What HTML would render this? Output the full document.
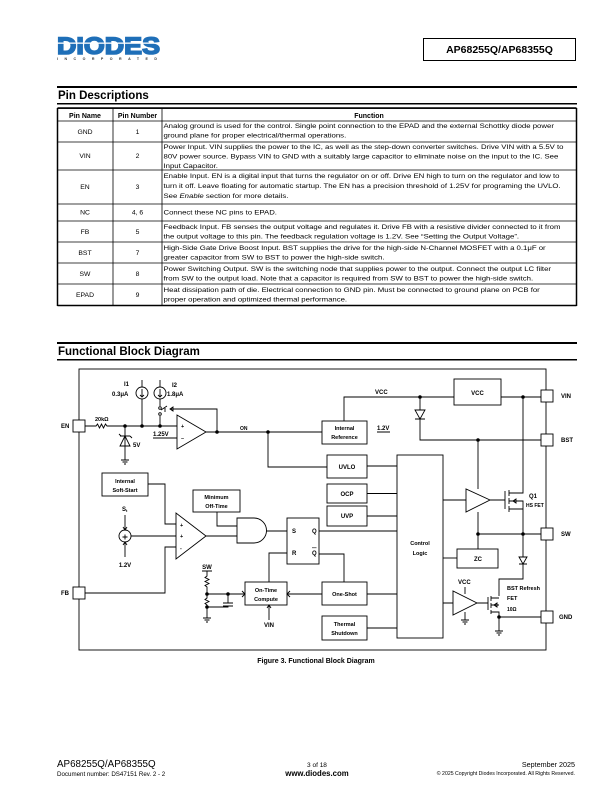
<!DOCTYPE html>
<html><head><meta charset="utf-8"><style>
html,body{margin:0;padding:0;background:#fff}
svg{display:block}
text{font-family:"Liberation Sans",Arial,sans-serif}
.d{font-size:6px;font-weight:bold}
.t{font-size:6.8px}
</style></head><body>
<svg width="612" height="792" viewBox="0 0 612 792" xmlns="http://www.w3.org/2000/svg">
<text x="57" y="54" font-size="24" font-weight="bold" fill="#1f6fb8" stroke="#1f6fb8" stroke-width="1.6" textLength="103" lengthAdjust="spacingAndGlyphs">DIODES</text>
<rect x="56" y="42.5" width="106" height="1.3" fill="#fff"/>
<text x="57" y="60" font-size="3.6" font-weight="bold" fill="#333" textLength="100" lengthAdjust="spacing">INCORPORATED</text>
<rect x="423.5" y="38.5" width="152" height="22" fill="none" stroke="#000" stroke-width="1"/>
<text x="499.5" y="53" font-size="10.5" font-weight="bold" text-anchor="middle">AP68255Q/AP68355Q</text>

<rect x="57" y="86" width="520" height="2" fill="#000"/>
<text x="58" y="99" font-size="11.5" font-weight="bold">Pin Descriptions</text>
<rect x="57" y="103" width="520" height="1.5" fill="#000"/>
<g stroke="#000" stroke-width="0.8" fill="none">
<rect x="57.5" y="108.5" width="519" height="197"/>
<line x1="57.5" y1="108" x2="576.5" y2="108" stroke-width="1.5"/>
<line x1="57.5" y1="305.5" x2="576.5" y2="305.5" stroke-width="1.5"/>
<line x1="57.5" y1="108" x2="57.5" y2="306" stroke-width="1.5"/>
<line x1="576.5" y1="108" x2="576.5" y2="306" stroke-width="1.5"/>
<line x1="113" y1="108" x2="113" y2="306"/>
<line x1="162" y1="108" x2="162" y2="306"/>
<line x1="57" y1="121" x2="577" y2="121"/>
<line x1="57" y1="142" x2="577" y2="142"/>
<line x1="57" y1="170" x2="577" y2="170"/>
<line x1="57" y1="204" x2="577" y2="204"/>
<line x1="57" y1="221" x2="577" y2="221"/>
<line x1="57" y1="242" x2="577" y2="242"/>
<line x1="57" y1="263" x2="577" y2="263"/>
<line x1="57" y1="284" x2="577" y2="284"/>
</g>
<g class="t">
<text x="85" y="118" text-anchor="middle" font-weight="bold" font-size="7">Pin Name</text>
<text x="137.5" y="118" text-anchor="middle" font-weight="bold" font-size="7">Pin Number</text>
<text x="369" y="118" text-anchor="middle" font-weight="bold" font-size="7">Function</text>
<g text-anchor="middle">
<text x="85" y="134">GND</text><text x="137.5" y="134">1</text>
<text x="85" y="158">VIN</text><text x="137.5" y="158">2</text>
<text x="85" y="189">EN</text><text x="137.5" y="189">3</text>
<text x="85" y="214.5">NC</text><text x="137.5" y="214.5">4, 6</text>
<text x="85" y="234">FB</text><text x="137.5" y="234">5</text>
<text x="85" y="255">BST</text><text x="137.5" y="255">7</text>
<text x="85" y="276">SW</text><text x="137.5" y="276">8</text>
<text x="85" y="297">EPAD</text><text x="137.5" y="297">9</text>
</g>
<g transform="translate(163.5,0) scale(1.18,1)" font-size="6.6">
<text x="0" y="128">Analog ground is used for the control. Single point connection to the EPAD and the external Schottky diode power</text>
<text x="0" y="137.5">ground plane for proper electrical/thermal operations.</text>
<text x="0" y="149">Power Input. VIN supplies the power to the IC, as well as the step-down converter switches. Drive VIN with a 5.5V to</text>
<text x="0" y="158.5">80V power source. Bypass VIN to GND with a suitably large capacitor to eliminate noise on the input to the IC. See</text>
<text x="0" y="168">Input Capacitor.</text>
<text x="0" y="178">Enable Input. EN is a digital input that turns the regulator on or off. Drive EN high to turn on the regulator and low to</text>
<text x="0" y="188">turn it off. Leave floating for automatic startup. The EN has a precision threshold of 1.25V for programing the UVLO.</text>
<text x="0" y="198">See <tspan font-style="italic">Enable</tspan> section for more details.</text>
<text x="0" y="214.5">Connect these NC pins to EPAD.</text>
<text x="0" y="229">Feedback Input. FB senses the output voltage and regulates it. Drive FB with a resistive divider connected to it from</text>
<text x="0" y="238.5">the output voltage to this pin. The feedback regulation voltage is 1.2V. See “Setting the Output Voltage”.</text>
<text x="0" y="250">High-Side Gate Drive Boost Input. BST supplies the drive for the high-side N-Channel MOSFET with a 0.1μF or</text>
<text x="0" y="259.5">greater capacitor from SW to BST to power the high-side switch.</text>
<text x="0" y="271">Power Switching Output. SW is the switching node that supplies power to the output. Connect the output LC filter</text>
<text x="0" y="280.5">from SW to the output load. Note that a capacitor is required from SW to BST to power the high-side switch.</text>
<text x="0" y="292">Heat dissipation path of die. Electrical connection to GND pin. Must be connected to ground plane on PCB for</text>
<text x="0" y="301.5">proper operation and optimized thermal performance.</text>
</g>
</g>

<rect x="57" y="342" width="520" height="2" fill="#000"/>
<text x="58" y="355" font-size="11.5" font-weight="bold">Functional Block Diagram</text>
<rect x="57" y="359" width="520" height="1.5" fill="#000"/>

<g stroke="#000" stroke-width="0.9" fill="none">
<rect x="79" y="369" width="467" height="281"/>
<rect x="73" y="420" width="12" height="12" fill="#fff"/>
<rect x="73" y="587" width="12" height="12" fill="#fff"/>
<rect x="541" y="390" width="12" height="12" fill="#fff"/>
<rect x="541" y="434" width="12" height="12" fill="#fff"/>
<rect x="541" y="528" width="12" height="12" fill="#fff"/>
<rect x="541" y="611" width="12" height="12" fill="#fff"/>
<path d="M85 426 H96 l1.5 -2 l2 4 l2 -4 l2 4 l2 -4 l1.5 2 H177"/>
<path d="M125 426 V460 M121 460 H129 M122.5 462 H127.5 M124 464 H126"/>
<path d="M120 436 H130 M121 436 l-2 -2 M130 436 l2 2 M125 436 L120 446 H130 Z"/>
<circle cx="142" cy="393" r="6"/><path d="M142 380 V387 M142 399 V426 M142 389 V397 M140 395 L142 397 L144 395"/>
<circle cx="160" cy="393" r="6"/><path d="M160 380 V387 M160 399 V406 M160 389 V397 M158 395 L160 397 L162 395"/>
<circle cx="160" cy="408" r="1.3"/><path d="M161 410 L167 406 M160 416 V426 M165 412 V408"/>
<circle cx="160" cy="414" r="1.3"/>
<path d="M170 409 H217 V432 M170 409 l3 -2 v4 z"/>
<path d="M153 438 H175 M175 438 H177"/>
<path d="M177 415 V449 L206 432 Z"/>
<path d="M206 432 H322 M268 432 V467 H327"/>
<rect x="322" y="421" width="45" height="23"/>
<path d="M344 421 V397 H454 M377 432 H390"/>
<rect x="454" y="379" width="47" height="26"/>
<path d="M501 397 H541 M420 397 V410 M415 410 H425 L420 419 Z M415 419 H425 M420 419 V440 H541"/>
<rect x="327" y="455" width="40" height="23"/>
<rect x="327" y="484" width="40" height="19"/>
<rect x="327" y="506" width="40" height="20"/>
<rect x="397" y="455" width="46" height="183"/>
<path d="M367 466 H397 M367 493.5 H397 M367 516 H397"/>
<path d="M443 500 H466 M466 489 V512 L490 500 Z M490 500 H505"/>
<path d="M478 440 V489 M478 512 V549"/>
<path d="M505 491 V509 M509 490 V496 M509 498 V504 M509 506 V512 M509 493 H523 V397 M509 509 H523 M509 501 H523 V541 M478 534 H541 M513 501 l3 -2 v4 z"/>
<rect x="457" y="549" width="41" height="19"/>
<path d="M443 558 H457"/>
<path d="M523 541 V557 M519 557 H527 L523 564 Z M519 564 H527 M523 564 V579 H499 V596"/>
<path d="M443 603 H453 M453 591 V615 L477 603 Z M465 587 V594 M465 612 V620 M461 620 H469 M462.5 622 H467.5 M464 624 H466"/>
<path d="M477 603 H488 M488 597 V610 M491 596 V601 M491 603 V608 M491 610 V614 M491 598 H499 M491 612 H499 V631 M491 605 H499 M499 617 H541 M495 631 H503 M496.5 633 H501.5 M498 635 H500 M494 605 l3 -2 v4 z"/>
<rect x="102" y="473" width="46" height="23"/>
<path d="M148 484 H165 V524 H176"/>
<path d="M176 513 V559 L206 536 Z"/>
<circle cx="125" cy="536" r="6"/><path d="M131 536 H176 M125 515 V530 M123 527 L125 530 L127 527 M125 557 V542 M123 545 L125 542 L127 545 M122.5 537 H127.5 M125 534.5 V539.5"/>
<path d="M85 593 H165 V547 H176"/>
<rect x="193" y="490" width="47" height="22"/>
<path d="M217 512 V526 H237 M206 536 H237"/>
<path d="M237 518 H254 A12.5 12.5 0 0 1 254 543 H237 Z"/>
<path d="M266.5 531 H287"/>
<rect x="287" y="518" width="32" height="46"/>
<path d="M319 531 H397 M319 554 H344 V582 M287 553 H269 V582"/>
<rect x="322" y="582" width="45" height="23"/>
<rect x="322" y="616" width="45" height="24"/>
<path d="M367 594 H397 M367 628 H397 M322 594 H287 M290 591 L287 594 L290 597"/>
<rect x="245" y="582" width="42" height="23"/>
<path d="M269 620 V605 M267 608 L269 605 L271 608"/>
<path d="M202 571 H212 M207 571 V576 l-2 1.5 l4 2 l-4 2 l4 2 l-4 2 l2 1.5 V594 V598 l-2 1.5 l4 2 l-4 2 l2 1.5 V607 V618 M203 618 H211 M204.5 620 H209.5 M206 622 H208"/>
<path d="M207 594 H245 M242 591 L245 594 L242 597 M228 594 V603 M223 603 H233 M223 606 H233 M228 606 V607 H207"/>
</g>
<g fill="#000">
<circle cx="125" cy="426" r="1.8"/><circle cx="142" cy="426" r="1.8"/><circle cx="160" cy="426" r="1.8"/>
<circle cx="217" cy="432" r="1.8"/><circle cx="268" cy="432" r="1.8"/><circle cx="420" cy="397" r="1.8"/>
<circle cx="523" cy="397" r="1.8"/><circle cx="478" cy="440" r="1.8"/><circle cx="478" cy="534" r="1.8"/>
<circle cx="523" cy="534" r="1.8"/><circle cx="499" cy="617" r="1.8"/><circle cx="207" cy="594" r="1.8"/>
<circle cx="228" cy="594" r="1.8"/><circle cx="207" cy="607" r="1.8"/>
</g>
<g class="d">
<text x="61" y="428">EN</text><text x="61" y="595">FB</text>
<text x="561" y="398">VIN</text><text x="561" y="442">BST</text><text x="561" y="536">SW</text><text x="559" y="619">GND</text>
<text x="95" y="421" font-size="5.5">20kΩ</text>
<text x="133" y="447">5V</text>
<text x="124" y="386">I1</text><text x="112" y="396">0.3μA</text>
<text x="172" y="387">I2</text><text x="167" y="396">1.8μA</text>
<text x="153" y="436">1.25V</text>
<text x="181" y="428" font-size="5.5">+</text><text x="181" y="440" font-size="5.5">–</text>
<text x="240" y="430" font-size="5">ON</text>
<text x="375" y="394">VCC</text>
<text x="477.5" y="395" text-anchor="middle">VCC</text>
<text x="344.5" y="430" text-anchor="middle" font-size="5.5">Internal</text>
<text x="344.5" y="439" text-anchor="middle" font-size="5.5">Reference</text>
<text x="377" y="430">1.2V</text>
<text x="347" y="469" text-anchor="middle">UVLO</text>
<text x="347" y="496" text-anchor="middle">OCP</text>
<text x="347" y="518" text-anchor="middle">UVP</text>
<text x="420" y="545" text-anchor="middle" font-size="5.5">Control</text>
<text x="420" y="555" text-anchor="middle" font-size="5.5">Logic</text>
<text x="478" y="561" text-anchor="middle">ZC</text>
<text x="529" y="498">Q1</text><text x="526" y="507" font-size="5">HS FET</text>
<text x="458" y="584">VCC</text>
<text x="507" y="590" font-size="5.5">BST Refresh</text>
<text x="507" y="600" font-size="5.5">FET</text>
<text x="507" y="611" font-size="5">10Ω</text>
<text x="125" y="483" text-anchor="middle" font-size="5.5">Internal</text>
<text x="125" y="492" text-anchor="middle" font-size="5.5">Soft-Start</text>
<text x="216.5" y="499" text-anchor="middle" font-size="5.5">Minimum</text>
<text x="216.5" y="508" text-anchor="middle" font-size="5.5">Off-Time</text>
<text x="122" y="511">S<tspan font-size="4" dy="1">t</tspan></text>
<text x="125" y="567" text-anchor="middle">1.2V</text>
<text x="180" y="527" font-size="5.5">+</text><text x="180" y="538" font-size="5.5">+</text><text x="180" y="550" font-size="5.5">-</text>
<text x="292" y="533">S</text><text x="292" y="555">R</text>
<text x="312" y="533">Q</text><text x="312" y="555">Q</text>
<rect x="312" y="547.5" width="4.5" height="0.6"/>
<text x="344.5" y="596" text-anchor="middle" font-size="5.5">One-Shot</text>
<text x="344.5" y="626" text-anchor="middle" font-size="5.5">Thermal</text>
<text x="344.5" y="635" text-anchor="middle" font-size="5.5">Shutdown</text>
<text x="266" y="592" text-anchor="middle" font-size="5.5">On-Time</text>
<text x="266" y="601" text-anchor="middle" font-size="5.5">Compute</text>
<text x="269" y="627" text-anchor="middle">VIN</text>
<text x="207" y="569" text-anchor="middle">SW</text>
</g>
<text x="316" y="663" font-size="7" font-weight="bold" text-anchor="middle">Figure 3. Functional Block Diagram</text>

<text x="57" y="767" font-size="9.8">AP68255Q/AP68355Q</text>
<text x="57" y="776" font-size="6.2">Document number: DS47151 Rev. 2 - 2</text>
<text x="317" y="767" font-size="6.5" text-anchor="middle">3 of 18</text>
<text x="317" y="776" font-size="7.8" font-weight="bold" text-anchor="middle">www.diodes.com</text>
<text x="575" y="767" font-size="7.2" text-anchor="end">September 2025</text>
<text x="575" y="775" font-size="5.2" text-anchor="end">© 2025 Copyright Diodes Incorporated. All Rights Reserved.</text>
</svg>
</body></html>
